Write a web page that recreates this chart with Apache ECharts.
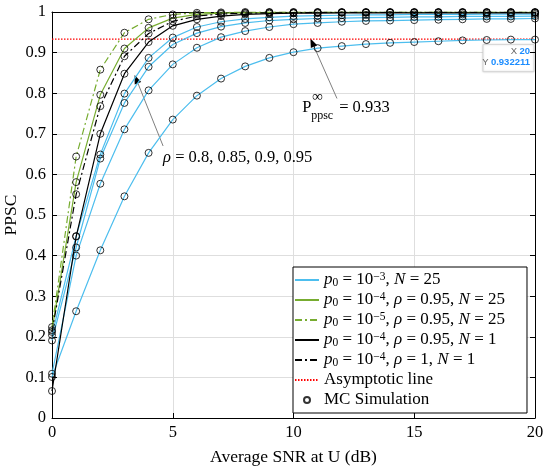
<!DOCTYPE html>
<html lang="en">
<head>
    <meta charset="UTF-8">
    <title>PPSC vs SNR</title>
    <script src="https://cdn.jsdelivr.net/npm/echarts@6/dist/echarts.min.js"></script>
    <style>
        html, body { margin: 0; padding: 0; background: #fff; }
        #main { width: 550px; height: 471px; }
    </style>
</head>
<body>
<div id="main"></div>
<script>
    // average SNR at U (dB)
    var snr = [0, 1, 2, 3, 4, 5, 6, 7, 8, 9, 10, 11, 12, 13, 14, 15, 16, 17, 18, 19, 20];

    // p0 = 1e-3, N = 25, rho = 0.95 / 0.9 / 0.85 / 0.8
    var blue95 = [0.204, 0.448, 0.649, 0.799, 0.887, 0.937, 0.963, 0.976, 0.983, 0.987, 0.990, 0.991, 0.992, 0.993, 0.993, 0.994, 0.994, 0.994, 0.995, 0.995, 0.995];
    var blue90 = [0.191, 0.420, 0.639, 0.776, 0.865, 0.920, 0.948, 0.964, 0.973, 0.979, 0.982, 0.984, 0.985, 0.986, 0.987, 0.988, 0.988, 0.989, 0.989, 0.989, 0.990];
    var blue85 = [0.109, 0.400, 0.577, 0.711, 0.807, 0.871, 0.912, 0.938, 0.953, 0.963, 0.970, 0.973, 0.976, 0.978, 0.979, 0.980, 0.981, 0.982, 0.983, 0.983, 0.984];
    var blue80 = [0.101, 0.263, 0.413, 0.546, 0.653, 0.735, 0.794, 0.836, 0.866, 0.887, 0.901, 0.911, 0.916, 0.921, 0.924, 0.926, 0.928, 0.930, 0.931, 0.932, 0.932];
    // p0 = 1e-4 / 1e-5, rho = 0.95, N = 25
    var green4 = [0.216, 0.581, 0.796, 0.910, 0.961, 0.985, 0.994, 0.997, 0.998, 0.999, 0.999, 0.999, 0.999, 0.999, 0.999, 0.999, 0.999, 0.999, 0.999, 0.999, 0.999];
    var green5 = [0.224, 0.644, 0.858, 0.949, 0.982, 0.994, 0.998, 0.999, 1.000, 1.000, 1.000, 1.000, 1.000, 1.000, 1.000, 1.000, 1.000, 1.000, 1.000, 1.000, 1.000];
    // p0 = 1e-4, N = 1, rho = 0.95 / 1
    var black95 = [0.0665, 0.447, 0.700, 0.848, 0.926, 0.966, 0.982, 0.990, 0.994, 0.996, 0.997, 0.997, 0.998, 0.998, 0.998, 0.998, 0.998, 0.998, 0.998, 0.998, 0.998];
    var black1 = [0.212, 0.551, 0.768, 0.891, 0.947, 0.977, 0.990, 0.995, 0.997, 0.998, 0.998, 0.999, 0.999, 0.999, 0.999, 0.999, 0.999, 0.999, 0.999, 0.999, 0.999];

    var asymptote = 0.933;
    var tipX = 20, tipY = 0.932211;

    var names = [
        '{i|p}{s|0} = 10{u|−3}, {i|N} = 25',
        '{i|p}{s|0} = 10{u|−4}, {i|ρ} = 0.95, {i|N} = 25',
        '{i|p}{s|0} = 10{u|−5}, {i|ρ} = 0.95, {i|N} = 25',
        '{i|p}{s|0} = 10{u|−4}, {i|ρ} = 0.95, {i|N} = 1',
        '{i|p}{s|0} = 10{u|−4}, {i|ρ} = 1, {i|N} = 1',
        'Asymptotic line',
        'MC Simulation'
    ];

    var BLUE = '#4DBEEE', GREEN = '#77AC30', DASHDOT = [7, 3, 2, 3];
    var SERIF = 'Liberation Serif, Times New Roman, serif';

    var pairs = function (ys) {
        return snr.map(function (x, i) { return [x, ys[i]]; });
    };
    var lineSeries = function (name, ys, color, type) {
        return {
            name: name, type: 'line', data: pairs(ys), symbol: 'none',
            lineStyle: {color: color, width: 1.2, type: type || 'solid'},
            itemStyle: {color: color}, z: 3
        };
    };

    var curves = [blue95, blue90, blue85, blue80, green4, green5, black95, black1];
    var mcPoints = [];
    curves.forEach(function (c) { mcPoints = mcPoints.concat(pairs(c)); });

    var myChart = echarts.init(document.getElementById('main'));

    var axisBase = {
        type: 'value',
        axisLine: {show: true, onZero: false, lineStyle: {color: '#000', width: 1}},
        axisTick: {show: true, inside: true, length: 5, lineStyle: {color: '#000'}}
    };

    // legend: lines without the marker, the MC entry as a small circle
    var legendData = names.map(function (n, i) {
        if (i < 6) return {name: n, itemStyle: {opacity: 0}};
        return {name: n, icon: 'path://M0,0M24,12M9,6a3,3 0 1,0 6,0a3,3 0 1,0 -6,0'};
    });

    var option = {
        backgroundColor: '#fff',
        animation: false,
        grid: {left: 52, right: 15, top: 12, bottom: 53, outerBoundsMode: 'none', containLabel: false},
        xAxis: [
            echarts.util.merge({
                min: 0, max: 20, interval: 5,
                name: 'Average SNR at U (dB)', nameLocation: 'middle', nameGap: 30, nameMoveOverlap: false,
                nameTextStyle: {fontFamily: SERIF, fontSize: 17.5, color: '#000'},
                axisLabel: {fontFamily: SERIF, fontSize: 16.5, color: '#000', margin: 6},
                splitLine: {show: true, lineStyle: {color: '#dedede', width: 1}}
            }, axisBase, true),
            echarts.util.merge({
                min: 0, max: 20, interval: 5, position: 'top',
                axisLabel: {show: false}, splitLine: {show: false}
            }, axisBase, true)
        ],
        yAxis: [
            echarts.util.merge({
                min: 0, max: 1, interval: 0.1,
                name: 'PPSC', nameLocation: 'middle', nameGap: 32, nameMoveOverlap: false,
                nameTextStyle: {fontFamily: SERIF, fontSize: 17.5, color: '#000'},
                axisLabel: {fontFamily: SERIF, fontSize: 16.5, color: '#000', margin: 6},
                splitLine: {show: true, lineStyle: {color: '#dedede', width: 1}}
            }, axisBase, true),
            echarts.util.merge({
                min: 0, max: 1, interval: 0.1, position: 'right',
                axisLabel: {show: false}, splitLine: {show: false}
            }, axisBase, true)
        ],
        legend: {
            orient: 'vertical', left: 293, top: 267,
            backgroundColor: '#fff', borderColor: '#000', borderWidth: 1,
            padding: [4, 22, 4, 1], itemWidth: 24, itemHeight: 12, itemGap: 2,
            data: legendData,
            textStyle: {
                fontFamily: SERIF, fontSize: 17, color: '#000', lineHeight: 18,
                rich: {
                    i: {fontFamily: SERIF, fontStyle: 'italic', fontSize: 17, lineHeight: 18},
                    s: {fontFamily: SERIF, fontSize: 11.5, lineHeight: 11, verticalAlign: 'bottom'},
                    u: {fontFamily: SERIF, fontSize: 11.5, lineHeight: 11, verticalAlign: 'top'}
                }
            }
        },
        series: [
            lineSeries(names[0], blue95, BLUE),
            lineSeries(names[0], blue90, BLUE),
            lineSeries(names[0], blue85, BLUE),
            lineSeries(names[0], blue80, BLUE),
            lineSeries(names[1], green4, GREEN),
            lineSeries(names[2], green5, GREEN, DASHDOT),
            lineSeries(names[3], black95, '#000'),
            lineSeries(names[4], black1, '#000', DASHDOT),
            {
                name: names[5], type: 'line', symbol: 'none', z: 2,
                data: [[snr[0], asymptote], [snr[snr.length - 1], asymptote]],
                lineStyle: {color: '#ff0000', width: 1.2, type: [1.5, 1.5]},
                itemStyle: {color: '#ff0000'}
            },
            {
                name: names[6], type: 'scatter', data: mcPoints, symbol: 'circle', symbolSize: 7, z: 5,
                itemStyle: {color: 'rgba(0,0,0,0)', borderColor: '#000', borderWidth: 1}
            }
        ]
    };

    myChart.setOption(option);

    // annotations placed through the axes
    var toPx = function (p) {
        return myChart.convertToPixel({xAxisIndex: 0, yAxisIndex: 0}, p);
    };
    var arrow = function (tail, head) {
        var t = toPx(tail), h = toPx(head);
        var a = Math.atan2(h[1] - t[1], h[0] - t[0]);
        var L = 9, W = 3.5;
        var bx = h[0] - L * Math.cos(a), by = h[1] - L * Math.sin(a);
        return [
            {type: 'line', shape: {x1: t[0], y1: t[1], x2: bx, y2: by}, style: {stroke: '#808080', lineWidth: 1}},
            {type: 'polygon', shape: {points: [h,
                [bx + W * Math.sin(a), by - W * Math.cos(a)],
                [bx - W * Math.sin(a), by + W * Math.cos(a)]]}, style: {fill: '#000'}}
        ];
    };

    var rhoAt = toPx([4.6, 0.642]);
    var pAt = toPx([10.36, 0.765]);
    var tip = toPx([tipX, tipY]);
    var txt = function (x, y, text, size, extra) {
        return {
            type: 'text', x: x, y: y,
            style: echarts.util.extend({
                text: text, fontFamily: SERIF, fontSize: size, fill: '#000', verticalAlign: 'middle'
            }, extra || {})
        };
    };
    var tipRich = {
        l: {fill: '#666', fontSize: 9.5, fontFamily: 'Liberation Sans'},
        v: {fill: '#1a8cff', fontSize: 9.5, fontWeight: 'bold', fontFamily: 'Liberation Sans'}
    };

    var elements = []
        .concat(arrow([4.6, 0.67], [3.42, 0.845]))
        .concat(arrow([11.8, 0.787], [10.7, 0.935]))
        .concat([
            txt(rhoAt[0], rhoAt[1], '{i|ρ} = 0.8, 0.85, 0.9, 0.95', 16.5,
                {rich: {i: {fontFamily: SERIF, fontStyle: 'italic', fontSize: 16.5}}}),
            txt(pAt[0], pAt[1], 'P', 16.5),
            txt(pAt[0] + 10, pAt[1] - 10, '∞', 15),
            txt(pAt[0] + 9, pAt[1] + 8, 'ppsc', 12),
            txt(pAt[0] + 37, pAt[1], '= 0.933', 16.5),
            {
                type: 'rect', shape: {x: tip[0] - 52, y: tip[1] + 5, width: 51, height: 27},
                style: {fill: '#fff', stroke: '#d8d8d8', lineWidth: 1, shadowBlur: 2, shadowColor: 'rgba(0,0,0,0.15)'}
            },
            txt(tip[0] - 5, tip[1] + 12, '{l|X} {v|' + tipX + '}', 9.5, {align: 'right', rich: tipRich}),
            txt(tip[0] - 5, tip[1] + 23, '{l|Y} {v|' + tipY + '}', 9.5, {align: 'right', rich: tipRich})
        ]);

    myChart.setOption({graphic: {elements: elements}});
</script>
</body>
</html>
